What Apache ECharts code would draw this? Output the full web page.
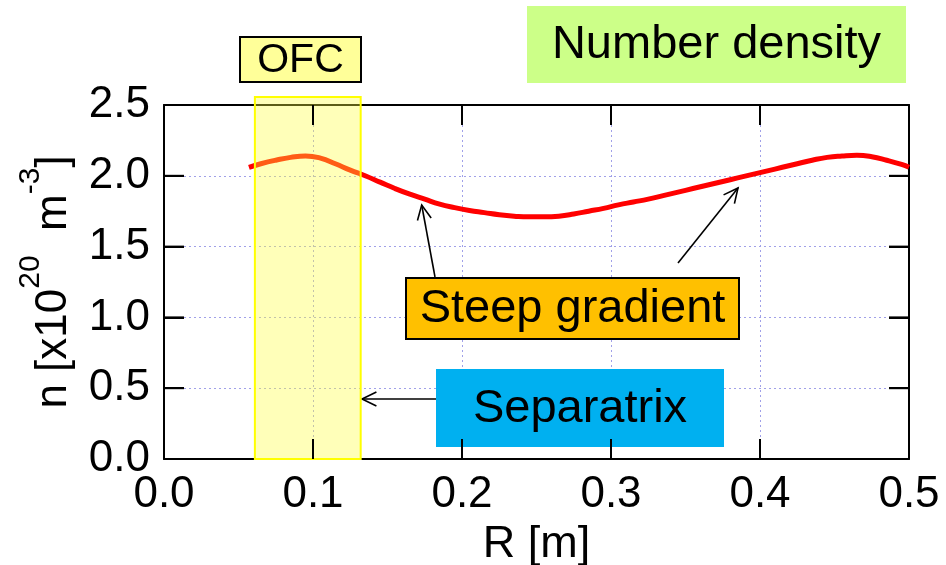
<!DOCTYPE html>
<html>
<head>
<meta charset="utf-8">
<script src="https://cdn.jsdelivr.net/npm/echarts@6/dist/echarts.min.js"></script>
<style>
  html, body { margin: 0; padding: 0; background: #fff; }
  #chart { width: 946px; height: 565px; }
</style>
</head>
<body>
<div id="chart"></div>
<script>
// Radial position R [m] and electron number density n [x10^20 m^-3]
const radius = [0.057, 0.065, 0.075, 0.085, 0.095, 0.105, 0.115, 0.125, 0.135, 0.145,
                0.155, 0.165, 0.175, 0.185, 0.195, 0.205, 0.215, 0.225, 0.235, 0.245,
                0.255, 0.265, 0.275, 0.285, 0.295, 0.305, 0.315, 0.325, 0.335, 0.345,
                0.355, 0.365, 0.375, 0.385, 0.395, 0.405, 0.415, 0.425, 0.435, 0.445,
                0.455, 0.465, 0.475, 0.485, 0.495, 0.5];
const density = [2.06, 2.085, 2.11, 2.13, 2.14, 2.125, 2.085, 2.04, 2.0, 1.955,
                 1.91, 1.87, 1.835, 1.80, 1.775, 1.755, 1.74, 1.725, 1.715, 1.71,
                 1.71, 1.715, 1.73, 1.75, 1.77, 1.795, 1.815, 1.835, 1.86, 1.885,
                 1.91, 1.935, 1.96, 1.985, 2.01, 2.035, 2.06, 2.085, 2.11, 2.13,
                 2.14, 2.145, 2.135, 2.11, 2.08, 2.06];

// Axis ranges and inner tick positions of the frame
const xRange = { min: 0, max: 0.5, step: 0.1 };
const yRange = { min: 0, max: 2.5, step: 0.5 };
const xInnerTicks = [0.1, 0.2, 0.3, 0.4];
const yInnerTicks = [0.5, 1.0, 1.5, 2.0];

// OFC (outer flux coil) region on the R axis
const ofcSpan = [0.061, 0.132];
const ofcTop = 2.556;

const FONT = '"Liberation Sans", Arial, sans-serif';
const TICK_LEN = 20;

const chart = echarts.init(document.getElementById('chart'), null, { renderer: 'canvas' });

const frameTick = () => ({ show: true, inside: true, length: TICK_LEN, lineStyle: { color: '#000', width: 2 } });
const frameLine = () => ({ show: true, onZero: false, lineStyle: { color: '#000', width: 2 } });
const gridDots = () => ({ show: true, lineStyle: { color: '#a0a0e8', width: 1, type: [2, 3] } });
const tickLabel = () => ({ fontFamily: FONT, fontSize: 44, color: '#000', margin: 14,
                           formatter: v => v.toFixed(1) });

function labelBox(x, y, w, h, fill, stroke, text, size) {
  return {
    type: 'group', z: 20,
    children: [
      { type: 'rect', shape: { x, y, width: w, height: h },
        style: { fill, stroke: stroke || null, lineWidth: stroke ? 2 : 0 } },
      { type: 'text', style: { text, x: x + w / 2, y: y + h / 2 + 1, align: 'center', verticalAlign: 'middle',
        font: size + 'px ' + FONT, fill: '#000' } }
    ]
  };
}

function arrow(x1, y1, x2, y2) {
  const ang = Math.atan2(y2 - y1, x2 - x1);
  const L = 16, a = 0.45;
  const h1 = [x2 - L * Math.cos(ang - a), y2 - L * Math.sin(ang - a)];
  const h2 = [x2 - L * Math.cos(ang + a), y2 - L * Math.sin(ang + a)];
  return {
    type: 'group', z: 20,
    children: [
      { type: 'line', shape: { x1, y1, x2, y2 }, style: { stroke: '#000', lineWidth: 1.6 } },
      { type: 'polyline', shape: { points: [h1, [x2, y2], h2] }, style: { stroke: '#000', lineWidth: 1.6, fill: null } }
    ]
  };
}

// Translucent OFC band
function renderOfc(params, api) {
  const a = api.coord([ofcSpan[0], ofcTop]);
  const b = api.coord([ofcSpan[1], 0]);
  return { type: 'rect', shape: { x: a[0], y: a[1], width: b[0] - a[0], height: b[1] - a[1] },
           style: { fill: 'rgba(255,255,60,0.36)', stroke: '#ffff00', lineWidth: 2 } };
}

chart.setOption({
  animation: false,
  backgroundColor: '#fff',
  grid: { left: 164, right: 37, top: 105, bottom: 106, containLabel: false, outerBoundsMode: 'none' },
  xAxis: [
    {
      type: 'value', position: 'bottom',
      min: xRange.min, max: xRange.max, interval: xRange.step,
      axisLine: frameLine(), axisTick: frameTick(), splitLine: gridDots(),
      axisLabel: tickLabel(),
      name: 'R [m]', nameLocation: 'middle', nameGap: 60,
      nameTextStyle: { fontFamily: FONT, fontSize: 45, color: '#000' }
    },
    {
      type: 'value', position: 'top',
      min: xRange.min, max: xRange.max, interval: xRange.step,
      axisLine: frameLine(), axisTick: frameTick(), splitLine: { show: false },
      axisLabel: { show: false }
    }
  ],
  yAxis: [
    {
      type: 'value', position: 'left',
      min: yRange.min, max: yRange.max, interval: yRange.step,
      axisLine: frameLine(), axisTick: frameTick(), splitLine: gridDots(),
      axisLabel: tickLabel(),
      name: '{a|n [x10}{s|20}{a|  m}{s|-3}{a|]}',
      nameLocation: 'middle', nameRotate: 90, nameGap: 88,
      nameTextStyle: {
        rich: {
          a: { fontFamily: FONT, fontSize: 44, color: '#000', lineHeight: 60, verticalAlign: 'bottom' },
          s: { fontFamily: FONT, fontSize: 30, color: '#000', lineHeight: 30, verticalAlign: 'top' }
        }
      }
    },
    {
      type: 'value', position: 'right',
      min: yRange.min, max: yRange.max, interval: yRange.step,
      axisLine: frameLine(), axisTick: frameTick(), splitLine: { show: false },
      axisLabel: { show: false }
    }
  ],
  series: [
    {
      type: 'line',
      data: radius.map((r, i) => [r, density[i]]),
      smooth: 0.5,
      showSymbol: false,
      lineStyle: { color: '#ff0000', width: 5 },
      z: 3
    },
    {
      type: 'custom', name: 'OFC', clip: false, silent: true, z: 5,
      data: [0],
      renderItem: renderOfc
    }
  ]
});

// Inward frame ticks on all four sides, placed through the axis scales
function px(x, y) { return chart.convertToPixel({ gridIndex: 0 }, [x, y]); }
const tickStyle = { stroke: '#000', lineWidth: 2 };
const frameTicks = [];
xInnerTicks.forEach(v => {
  const b = px(v, yRange.min), t = px(v, yRange.max);
  frameTicks.push({ type: 'line', z: 12, shape: { x1: b[0], y1: b[1], x2: b[0], y2: b[1] - TICK_LEN }, style: tickStyle });
  frameTicks.push({ type: 'line', z: 12, shape: { x1: t[0], y1: t[1], x2: t[0], y2: t[1] + TICK_LEN }, style: tickStyle });
});
yInnerTicks.forEach(v => {
  const l = px(xRange.min, v), r = px(xRange.max, v);
  frameTicks.push({ type: 'line', z: 12, shape: { x1: l[0], y1: l[1], x2: l[0] + TICK_LEN, y2: l[1] }, style: tickStyle });
  frameTicks.push({ type: 'line', z: 12, shape: { x1: r[0], y1: r[1], x2: r[0] - TICK_LEN, y2: r[1] }, style: tickStyle });
});

chart.setOption({
  graphic: frameTicks.concat([
    labelBox(527, 6, 379, 77, '#ccff88', null, 'Number density', 47),
    labelBox(240, 37, 121, 45, '#ffff99', '#000', 'OFC', 41),
    arrow(435, 277, 421.7, 205),
    arrow(678, 263, 738, 188),
    arrow(436, 399, 362, 399),
    labelBox(406, 278, 333, 61, '#ffc000', '#000', 'Steep gradient', 47),
    labelBox(436, 369, 288, 78, '#00b0f0', null, 'Separatrix', 47)
  ])
});
</script>
</body>
</html>
